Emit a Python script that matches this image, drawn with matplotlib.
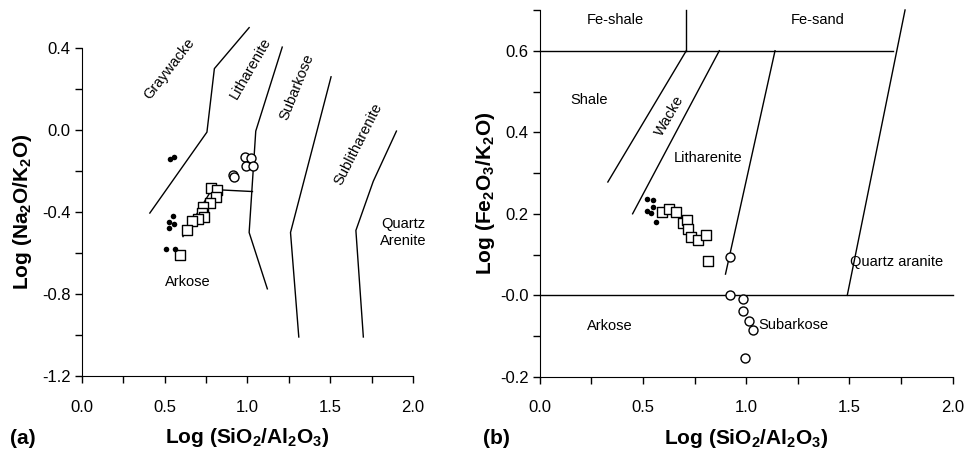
import numpy as np
import matplotlib
matplotlib.use("Agg")
import matplotlib.pyplot as plt
from matplotlib.ticker import MultipleLocator, FuncFormatter

plt.rcParams['font.family'] = ['Liberation Sans', 'DejaVu Sans']
plt.rcParams['mathtext.fontset'] = 'custom'
plt.rcParams['mathtext.rm'] = 'Liberation Sans:bold'
plt.rcParams['mathtext.it'] = 'Liberation Sans:bold'
plt.rcParams['mathtext.bf'] = 'Liberation Sans:bold'

# (a) Log(Na2O/K2O) vs Log(SiO2/Al2O3)
a_dots_x = [0.53, 0.555, 0.55, 0.525, 0.555, 0.525, 0.51, 0.56]
a_dots_y = [-0.14, -0.13, -0.42, -0.45, -0.46, -0.48, -0.58, -0.58]
a_sq_x = [0.78, 0.816, 0.81, 0.773, 0.731, 0.725, 0.737, 0.70, 0.665, 0.634, 0.592]
a_sq_y = [-0.283, -0.293, -0.327, -0.356, -0.376, -0.405, -0.424, -0.434, -0.444, -0.488, -0.61]
a_circ_x = [0.915, 0.92, 0.985, 1.02, 0.99, 1.035]
a_circ_y = [-0.22, -0.23, -0.13, -0.135, -0.175, -0.175]

# field boundaries (a)
a_graywacke_x = [0.41, 0.755, 0.80, 1.01]
a_graywacke_y = [-0.405, -0.01, 0.30, 0.50]
a_lith_x = [1.21, 1.05, 1.01, 1.12]
a_lith_y = [0.405, -0.005, -0.50, -0.775]
a_arkose_x = [0.61, 0.785, 1.03]
a_arkose_y = [-0.52, -0.29, -0.30]
a_subark_x = [1.505, 1.26, 1.31]
a_subark_y = [0.26, -0.50, -1.01]
a_sublith_x = [1.90, 1.76, 1.655, 1.70]
a_sublith_y = [-0.005, -0.25, -0.49, -1.01]

# (b) Log(Fe2O3/K2O) vs Log(SiO2/Al2O3)
b_dots_x = [0.52, 0.55, 0.55, 0.52, 0.54, 0.565]
b_dots_y = [0.237, 0.234, 0.217, 0.207, 0.202, 0.18]
b_sq_x = [0.59, 0.625, 0.66, 0.695, 0.715, 0.72, 0.735, 0.765, 0.805, 0.815]
b_sq_y = [0.205, 0.212, 0.205, 0.178, 0.185, 0.163, 0.143, 0.136, 0.148, 0.085]
b_circ_x = [0.92, 0.92, 0.985, 0.985, 1.015, 1.035, 0.995]
b_circ_y = [0.094, 0.001, -0.009, -0.038, -0.063, -0.085, -0.153]

# field boundaries (b)
b_lines = [
    ([0.0, 1.71], [0.6, 0.6]),
    ([0.0, 2.0], [0.0, 0.0]),
    ([0.71, 0.71], [0.6, 0.7]),
    ([0.71, 0.33], [0.6, 0.278]),
    ([0.87, 0.45], [0.6, 0.20]),
    ([1.14, 0.90], [0.6, 0.052]),
    ([1.49, 1.77], [0.0, 0.70]),
]

fig = plt.figure(figsize=(9.69, 4.54), dpi=100)
ax1 = fig.add_axes([0.0846, 0.172, 0.3416, 0.722])
ax2 = fig.add_axes([0.557, 0.170, 0.426, 0.808])

dot_kw = dict(s=16, c='black', marker='o', linewidths=0, zorder=4)
sq_kw = dict(s=42, facecolors='white', edgecolors='black', marker='s', linewidths=1, zorder=3)
circ_kw = dict(s=42, facecolors='white', edgecolors='black', marker='o', linewidths=1, zorder=3)

# ---- (a)
for xs, ys in [(a_graywacke_x, a_graywacke_y), (a_lith_x, a_lith_y), (a_arkose_x, a_arkose_y),
               (a_subark_x, a_subark_y), (a_sublith_x, a_sublith_y)]:
    ax1.plot(xs, ys, color='black', lw=1, clip_on=False, zorder=2)
ax1.scatter(a_sq_x, a_sq_y, clip_on=False, **sq_kw)
ax1.scatter(a_circ_x, a_circ_y, clip_on=False, **circ_kw)
ax1.scatter(a_dots_x, a_dots_y, clip_on=False, **dot_kw)

lab = dict(fontsize=10.5, ha='center', va='center')
ax1.text(0.53, 0.30, 'Graywacke', rotation=52, **lab)
ax1.text(1.02, 0.30, 'Litharenite', rotation=60, **lab)
ax1.text(1.30, 0.21, 'Subarkose', rotation=68, **lab)
ax1.text(1.67, -0.07, 'Sublitharenite', rotation=63, **lab)
ax1.text(1.94, -0.50, 'Quartz\nArenite', **lab)
ax1.text(0.64, -0.74, 'Arkose', **lab)

ax1.set_xlim(0, 2.0)
ax1.set_ylim(-1.2, 0.4)
ax1.xaxis.set_major_locator(MultipleLocator(0.5))
ax1.xaxis.set_minor_locator(MultipleLocator(0.25))
ax1.yaxis.set_major_locator(MultipleLocator(0.4))
ax1.yaxis.set_minor_locator(MultipleLocator(0.2))
ax1.xaxis.set_major_formatter(FuncFormatter(lambda v, p: '%.1f' % v))
ax1.yaxis.set_major_formatter(FuncFormatter(lambda v, p: '%.1f' % v))
ax1.set_xlabel('Log (SiO$_2$/Al$_2$O$_3$)', fontsize=15, fontweight='bold', labelpad=8)
ax1.set_ylabel('Log (Na$_2$O/K$_2$O)', fontsize=15, fontweight='bold', labelpad=6)
fig.text(0.010, 0.022, '(a)', fontsize=15, fontweight='bold')

# ---- (b)
for xs, ys in b_lines:
    ax2.plot(xs, ys, color='black', lw=1, clip_on=False, zorder=2)
ax2.scatter(b_sq_x, b_sq_y, **sq_kw)
ax2.scatter(b_circ_x, b_circ_y, **circ_kw)
ax2.scatter(b_dots_x, b_dots_y, **dot_kw)

ax2.text(0.365, 0.675, 'Fe-shale', **lab)
ax2.text(1.345, 0.675, 'Fe-sand', **lab)
ax2.text(0.24, 0.48, 'Shale', **lab)
ax2.text(0.63, 0.44, 'Wacke', rotation=60, **lab)
ax2.text(0.815, 0.337, 'Litharenite', **lab)
ax2.text(0.34, -0.075, 'Arkose', **lab)
ax2.text(1.23, -0.073, 'Subarkose', **lab)
ax2.text(1.73, 0.082, 'Quartz aranite', **lab)

ax2.set_xlim(0, 2.0)
ax2.set_ylim(-0.2, 0.7)
ax2.xaxis.set_major_locator(MultipleLocator(0.5))
ax2.xaxis.set_minor_locator(MultipleLocator(0.25))
ax2.yaxis.set_major_locator(MultipleLocator(0.2))
ax2.yaxis.set_minor_locator(MultipleLocator(0.1))
ax2.xaxis.set_major_formatter(FuncFormatter(lambda v, p: '%.1f' % v))
ax2.yaxis.set_major_formatter(FuncFormatter(lambda v, p: '-0.0' if abs(v) < 1e-9 else '%.1f' % v))
ax2.set_xlabel('Log (SiO$_2$/Al$_2$O$_3$)', fontsize=15, fontweight='bold', labelpad=8)
ax2.set_ylabel('Log (Fe$_2$O$_3$/K$_2$O)', fontsize=15, fontweight='bold', labelpad=2)
fig.text(0.498, 0.022, '(b)', fontsize=15, fontweight='bold')

for ax in (ax1, ax2):
    ax.spines['top'].set_visible(False)
    ax.spines['right'].set_visible(False)
    ax.tick_params(which='both', direction='out', length=5, width=1, labelsize=12)
    ax.tick_params(axis='x', which='both', pad=12)
    ax.tick_params(axis='y', which='both', pad=3)

fig.savefig('out.png', dpi=100)
